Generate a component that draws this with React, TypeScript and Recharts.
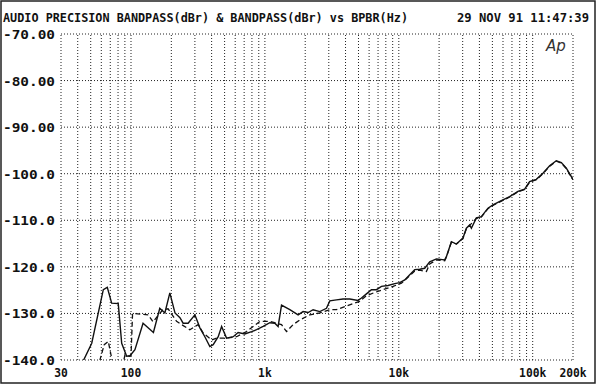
import { LineChart, Line, XAxis, YAxis, ReferenceLine } from 'recharts';

// axis ticks
const xTicks = [30, 100, 1000, 10000, 100000, 200000];
const xTickLabels = ['30', '100', '1k', '10k', '100k', '200k'];
const yTicks = [-140, -130, -120, -110, -100, -90, -80, -70];
const yTickLabels = ['-140.0', '-130.0', '-120.0', '-110.0', '-100.0', '-90.00', '-80.00', '-70.00'];

// log grid (vertical dotted lines)
const gridFreqs = [
  30, 40, 50, 60, 70, 80, 90,
  100, 200, 300, 400, 500, 600, 700, 800, 900,
  1000, 2000, 3000, 4000, 5000, 6000, 7000, 8000, 9000,
  10000, 20000, 30000, 40000, 50000, 60000, 70000, 80000, 90000,
  100000, 200000,
];

// BANDPASS (solid)
const solidFreq = [
  43.8, 50.9, 62.1, 66.5, 71.7, 80.3, 85.2, 92.8, 98.2, 107, 123, 147, 164, 179, 195, 213, 232, 245, 267, 300,
  327, 356, 388, 411, 448, 475, 517, 580, 631, 708, 795, 866, 970, 1088, 1186, 1255, 1331, 1535, 1770, 1929,
  2102, 2291, 2570, 2883, 3052, 3424, 3834, 4302, 4964, 5261, 5733, 6248, 6809, 7421, 8312, 9326, 10164, 11077,
  12070, 13152, 14330, 15617, 17016, 19094, 22019, 22675, 24706, 26925, 30153, 31968, 33830, 34836, 37955,
  41370, 46340, 50500, 58340, 67290, 77620, 87070, 94870, 106400, 119300, 133800, 150100, 163600, 178300, 199700,
];
const solidLevel = [
  -140.3, -136.4, -124.9, -124.4, -127.8, -127.9, -136.4, -139.2, -139.1, -137.8, -132.1, -134.1, -128.9, -129.9,
  -125.6, -129.9, -130.9, -132.1, -132.1, -130.3, -133.1, -135.0, -137.1, -136.7, -135.0, -132.8, -135.3, -135.0,
  -134.1, -134.4, -133.9, -133.5, -132.8, -132.0, -132.1, -132.8, -128.2, -129.2, -130.3, -129.6, -129.8, -129.2,
  -129.6, -128.9, -127.3, -127.1, -126.9, -126.9, -127.2, -126.7, -125.8, -124.9, -124.9, -124.2, -124.0, -123.6,
  -123.4, -122.8, -121.7, -120.6, -120.5, -120.3, -118.9, -118.3, -118.5, -117.8, -114.6, -115.1, -113.8, -111.7,
  -111.0, -111.7, -109.5, -109.2, -107.4, -106.7, -105.8, -104.9, -103.8, -103.3, -101.7, -101.2, -99.9, -98.3,
  -97.2, -97.6, -98.8, -101.2,
];

// BANDPASS (dashed)
const dashedFreq = [
  50, 58.6, 63.1, 67.6, 72.4, 80, 88, 90.1, 97, 100, 102.7, 134.5, 146, 173, 189, 219, 239, 275, 317, 346, 400,
  436, 517, 614, 729, 917, 1088, 1331, 1450, 1625, 1823, 2164, 2570, 3052, 3424, 4068, 5109, 5733, 6612, 7627,
  9059, 10464, 12070, 13152, 14330, 16078, 17016, 19094, 22019, 22675, 24706, 26925, 30153, 31968, 33830, 37955,
  41370, 46340, 50500, 58340, 67290, 77620, 87070, 94870, 106400, 119300, 133800, 150100, 163600, 178300, 199700,
];
const dashedLevel = [
  -143, -140, -136.7, -136.0, -140.2, -143, -140.3, -138.9, -139.2, -139.1, -130.0, -130.3, -131.8, -129.2, -129.0,
  -131.7, -132.4, -133.5, -132.4, -134.2, -135.7, -135.3, -135.3, -135.0, -133.9, -131.7, -131.7, -132.4, -133.9,
  -132.4, -131.4, -130.3, -129.9, -129.2, -129.2, -128.4, -127.4, -126.2, -125.5, -124.9, -124.2, -123.5, -121.9,
  -120.9, -120.7, -121.0, -119.4, -118.5, -118.7, -117.9, -114.7, -115.1, -113.9, -111.8, -111.1, -109.6, -109.3,
  -107.5, -106.8, -105.9, -105.0, -103.9, -103.4, -101.8, -101.3, -100.0, -98.4, -97.3, -97.7, -98.9, -101.3,
];

const solid = solidFreq.map((f, i) => ({ f, v: solidLevel[i] }));
const dashed = dashedFreq.map((f, i) => ({ f, v: dashedLevel[i] }));

const mono = '"DejaVu Sans Mono", "Liberation Mono", monospace';

const XTick = (props: any) => {
  const { x, payload } = props;
  const label = xTickLabels[xTicks.indexOf(payload.value)];
  return (
    <text x={x} y={377} textAnchor="middle" fontFamily={mono} fontSize={12} fontWeight="bold" fill="#111"
      textLength={label.length * 6.8} lengthAdjust="spacingAndGlyphs">
      {label}
    </text>
  );
};

const YTick = (props: any) => {
  const { y, payload } = props;
  const label = yTickLabels[yTicks.indexOf(payload.value)];
  return (
    <text x={3} y={y + 5} fontFamily={mono} fontSize={13} fontWeight="bold" fill="#111"
      textLength={52} lengthAdjust="spacingAndGlyphs">
      {label}
    </text>
  );
};

export default function App() {
  return (
    <div style={{ position: 'absolute', left: 0, top: 0, width: 600, height: 391, background: '#fff' }}>
      <LineChart width={600} height={391} margin={{ top: 34, right: 27, bottom: 0, left: 0 }}>
        <XAxis dataKey="f" type="number" scale="log" domain={[30, 200000]} ticks={xTicks} interval={0}
          allowDataOverflow axisLine={false} tickLine={false} height={31} tick={XTick} />
        <YAxis type="number" domain={[-140, -70]} ticks={yTicks} interval={0}
          allowDataOverflow axisLine={false} tickLine={false} width={61} tick={YTick} />
        {gridFreqs.map((f) => (
          <ReferenceLine key={'x' + f} x={f} stroke="#222" strokeDasharray="1 2" />
        ))}
        {yTicks.map((v) => (
          <ReferenceLine key={'y' + v} y={v} stroke="#222" strokeDasharray="1 2" />
        ))}
        <Line data={dashed} dataKey="v" type="linear" stroke="#111" strokeWidth={1.3}
          strokeDasharray="5 3" dot={false} isAnimationActive={false} />
        <Line data={solid} dataKey="v" type="linear" stroke="#111" strokeWidth={1.4}
          dot={false} isAnimationActive={false} />
      </LineChart>
      <svg width={600} height={391} style={{ position: 'absolute', left: 0, top: 0, pointerEvents: 'none' }}>
        <rect x={1} y={1} width={594} height={382} fill="none" stroke="#222" strokeWidth={1.5} />
        <text x={3} y={22} fontFamily={mono} fontSize={12} fontWeight="bold" fill="#111"
          textLength={405} lengthAdjust="spacingAndGlyphs">
          AUDIO PRECISION BANDPASS(dBr) &amp; BANDPASS(dBr) vs BPBR(Hz)
        </text>
        <text x={457} y={22} fontFamily={mono} fontSize={12} fontWeight="bold" fill="#111"
          textLength={132} lengthAdjust="spacingAndGlyphs">
          29 NOV 91 11:47:39
        </text>
        <text x={546} y={51} fontFamily='"DejaVu Sans", sans-serif' fontSize={15} fontStyle="italic"
          fill="#333">
          Ap
        </text>
      </svg>
    </div>
  );
}
